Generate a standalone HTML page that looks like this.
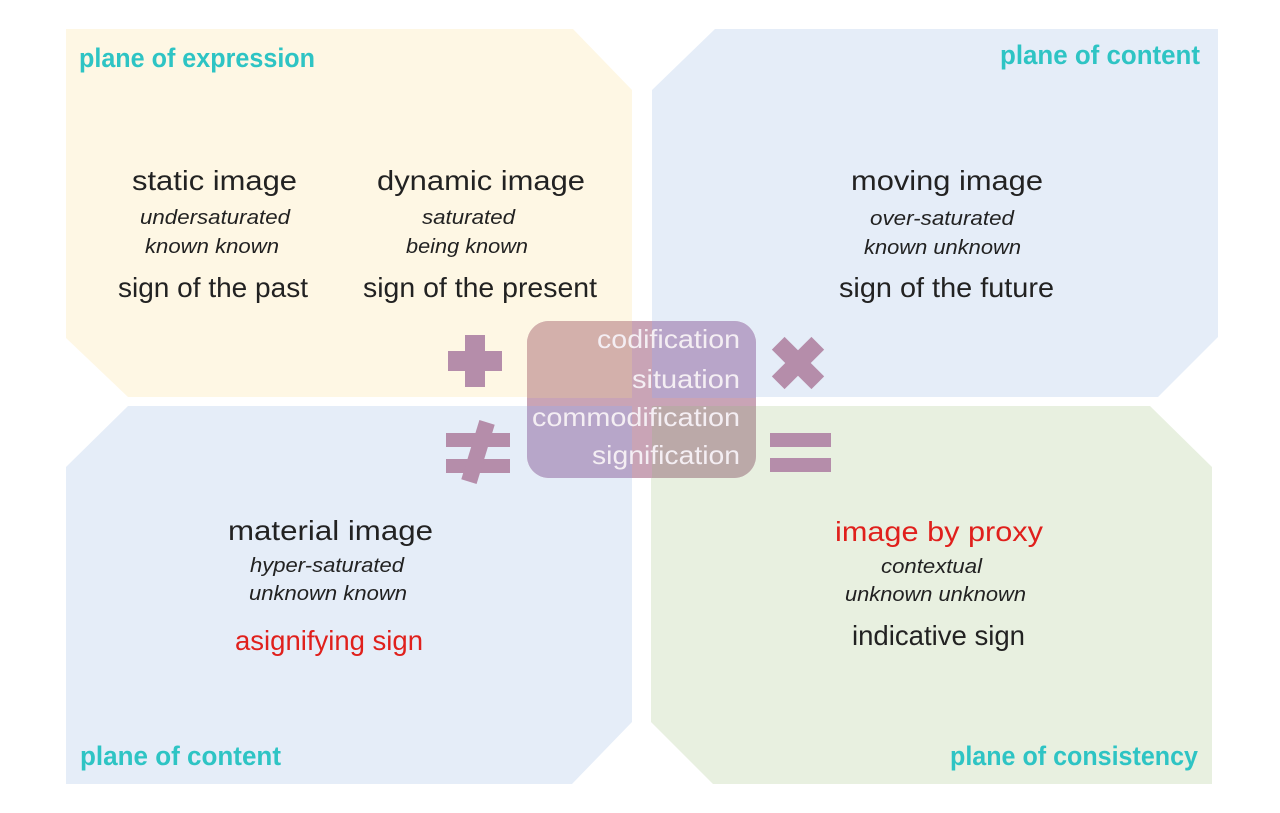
<!DOCTYPE html>
<html><head><meta charset="utf-8"><style>html,body{margin:0;padding:0;background:#fff}svg{display:block}</style></head>
<body>
<svg width="1280" height="813" viewBox="0 0 1280 813" xmlns="http://www.w3.org/2000/svg" font-family="Liberation Sans, sans-serif">
<polygon points="66,29 573,29 632,90 632,397 128,397 66,338" fill="#fef7e4"/>
<polygon points="715,29 1218,29 1218,337 1158,397 652,397 652,90" fill="#e5edf8"/>
<polygon points="128,406 632,406 632,722 572,784 66,784 66,467" fill="#e5edf8"/>
<polygon points="651,406 1150,406 1212,467 1212,784 713,784 651,722" fill="#e8f0e0"/>

<defs><clipPath id="cb"><rect x="527" y="321" width="229" height="157" rx="22"/></clipPath></defs>
<g clip-path="url(#cb)">
<rect x="527" y="321" width="229" height="157" fill="#c9a4b6"/>
<rect x="527" y="321" width="105" height="77" fill="#d3b0ab"/>
<rect x="652" y="321" width="104" height="77" fill="#b8a5c9"/>
<rect x="527" y="406" width="105" height="72" fill="#b7a6c9"/>
<rect x="652" y="406" width="104" height="72" fill="#bba9a8"/>
</g>
<g fill="#b58daa">
<rect x="448" y="351" width="54" height="20"/><rect x="465" y="335" width="20" height="52"/>
<g transform="translate(798,363) rotate(45)"><rect x="-28" y="-9" width="56" height="18"/><rect x="-9" y="-28" width="18" height="56"/></g>
<rect x="446" y="433" width="64" height="14"/><rect x="446" y="459" width="64" height="14"/>
<g transform="translate(478,452) rotate(17)"><rect x="-8" y="-31" width="16" height="62"/></g>
<rect x="770" y="433" width="61" height="14"/><rect x="770" y="458" width="61" height="14"/>
</g>

<g fill="#f4eef3" font-size="26">
<text x="597" y="348" textLength="143" lengthAdjust="spacingAndGlyphs">codification</text>
<text x="632" y="388" textLength="108" lengthAdjust="spacingAndGlyphs">situation</text>
<text x="532" y="426" textLength="208" lengthAdjust="spacingAndGlyphs">commodification</text>
<text x="592" y="464" textLength="148" lengthAdjust="spacingAndGlyphs">signification</text>
</g>

<g fill="#2ec4c4" font-size="27" font-weight="bold">
<text x="79" y="67" textLength="236" lengthAdjust="spacingAndGlyphs">plane of expression</text>
<text x="1000" y="64" textLength="200" lengthAdjust="spacingAndGlyphs">plane of content</text>
<text x="80" y="765" textLength="201" lengthAdjust="spacingAndGlyphs">plane of content</text>
<text x="950" y="765" textLength="248" lengthAdjust="spacingAndGlyphs">plane of consistency</text>
</g>

<g fill="#222" font-size="28">
<text x="132" y="190" textLength="165" lengthAdjust="spacingAndGlyphs">static image</text>
<text x="377" y="190" textLength="208" lengthAdjust="spacingAndGlyphs">dynamic image</text>
<text x="118" y="297" textLength="190" lengthAdjust="spacingAndGlyphs">sign of the past</text>
<text x="363" y="297" textLength="234" lengthAdjust="spacingAndGlyphs">sign of the present</text>
<text x="851" y="190" textLength="192" lengthAdjust="spacingAndGlyphs">moving image</text>
<text x="839" y="297" textLength="215" lengthAdjust="spacingAndGlyphs">sign of the future</text>
<text x="228" y="540" textLength="205" lengthAdjust="spacingAndGlyphs">material image</text>
<text x="852" y="645" textLength="173" lengthAdjust="spacingAndGlyphs">indicative sign</text>
</g>
<g fill="#e0201c" font-size="28">
<text x="235" y="650" textLength="188" lengthAdjust="spacingAndGlyphs">asignifying sign</text>
<text x="835" y="541" textLength="208" lengthAdjust="spacingAndGlyphs">image by proxy</text>
</g>
<g fill="#222" font-size="20" font-style="italic">
<text x="140" y="224" textLength="150" lengthAdjust="spacingAndGlyphs">undersaturated</text>
<text x="145" y="253" textLength="134" lengthAdjust="spacingAndGlyphs">known known</text>
<text x="422" y="224" textLength="93" lengthAdjust="spacingAndGlyphs">saturated</text>
<text x="406" y="253" textLength="122" lengthAdjust="spacingAndGlyphs">being known</text>
<text x="870" y="225" textLength="144" lengthAdjust="spacingAndGlyphs">over-saturated</text>
<text x="864" y="254" textLength="157" lengthAdjust="spacingAndGlyphs">known unknown</text>
<text x="250" y="572" textLength="154" lengthAdjust="spacingAndGlyphs">hyper-saturated</text>
<text x="249" y="600" textLength="158" lengthAdjust="spacingAndGlyphs">unknown known</text>
<text x="881" y="573" textLength="101" lengthAdjust="spacingAndGlyphs">contextual</text>
<text x="845" y="601" textLength="181" lengthAdjust="spacingAndGlyphs">unknown unknown</text>
</g>
</svg>
</body></html>
